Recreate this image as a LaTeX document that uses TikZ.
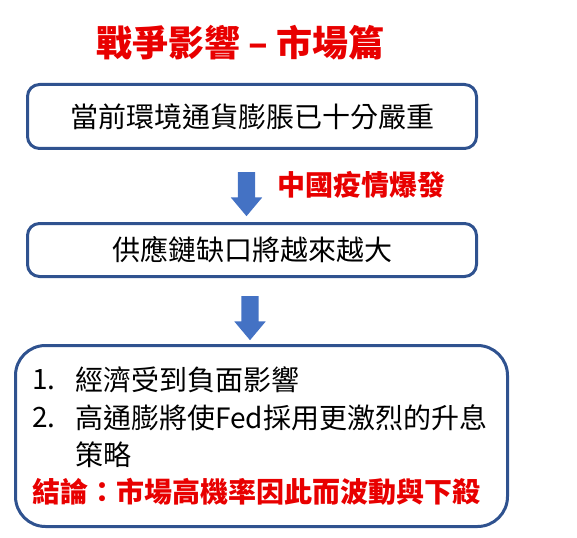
\documentclass[tikz,border=0pt]{standalone}
\usepackage{fontspec}
\newfontfamily\cjk{Noto Sans CJK TC}
\usepackage{xcolor}
\usetikzlibrary{shapes.arrows}
\usetikzlibrary{positioning}
\definecolor{BOX-BLUE}{RGB}{47,82,143}
\definecolor{ARROW-BLUE}{RGB}{68,114,196}
\definecolor{ALERT-RED}{RGB}{232,0,0}

\tikzset{
	txt/.style={font=\cjk\fontsize{28}{34}\selectfont,text=black},
	alert/.style={font=\cjk\bfseries\fontsize{28}{34}\selectfont,text=ALERT-RED},
	box/.style={draw=BOX-BLUE,line width=3pt,rounded corners=12pt,txt},
	blockarrow/.style={shape=single arrow,fill=ARROW-BLUE,draw=none,rotate=-90,
		minimum height=44pt,inner xsep=0pt,inner ysep=8.5pt,
		single arrow head extend=7pt,single arrow tip angle=80}
}

\begin{document}
\begin{tikzpicture}[x=1pt,y=-1pt,every path/.style={>=latex}]
			\useasboundingbox (0,0) rectangle (577,537);
		
			% draw title
			\node (title) at (240.5,43) [font=\cjk\bfseries\fontsize{36}{40}\selectfont,text=ALERT-RED] {戰爭影響 – 市場篇};
		
			% draw boxes
			\node (B_now) at (252,116.5) [box,minimum width=449pt,minimum height=64pt] {當前環境通貨膨脹已十分嚴重};
			\node (B_gap) at (252,250) [box,minimum width=449pt,minimum height=53pt] {供應鏈缺口將越來越大};
			\node (B_end) at (261.5,436) [box,rounded corners=30pt,minimum width=492pt,minimum height=181pt] {};
		
			% draw arrows
			\node (A_one) at (246.5,189) [blockarrow] {};
			\node (A_two) at (250,313) [blockarrow] {};
			\node (L_covid) at (361.5,185) [alert] {中國疫情爆發};
		
			% draw list
			\node (N_one) at (32,380) [txt,anchor=west,inner sep=0pt] {1.};
			\node (T_one) at (75,380) [txt,anchor=west,inner sep=0pt] {經濟受到負面影響};
			\node (N_two) at (32,418) [txt,anchor=west,inner sep=0pt] {2.};
			\node (T_two) at (75,418) [txt,anchor=west,inner sep=0pt] {高通膨將使Fed採用更激烈的升息};
			\node (T_three) at (75,455) [txt,anchor=west,inner sep=0pt] {策略};
			\node (T_end) at (32,492) [alert,anchor=west,inner sep=0pt] {結論：市場高機率因此而波動與下殺};
		\end{tikzpicture}
\end{document}
